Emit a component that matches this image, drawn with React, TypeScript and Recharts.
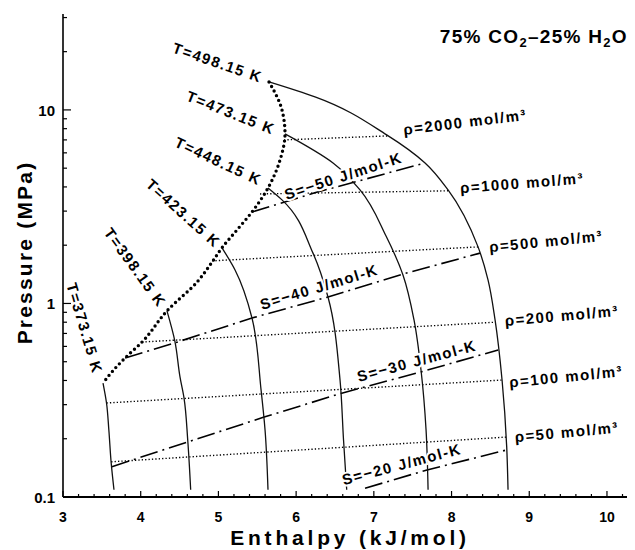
import React from 'react';
import { ComposedChart, Line, XAxis, YAxis, ReferenceDot } from 'recharts';

const FONT = '"Liberation Sans", Arial, Helvetica, sans-serif';

// all points are [enthalpy (kJ/mol), pressure (MPa)]

// isotherms (solid)
const iso373 = [[3.515, 0.388], [3.56, 0.306], [3.59, 0.222], [3.62, 0.15], [3.656, 0.109]];
const iso398 = [[4.338, 0.915], [4.44, 0.637], [4.506, 0.416], [4.557, 0.325], [4.605, 0.197], [4.643, 0.109]];
const iso423 = [[5.046, 1.94], [5.214, 1.49], [5.432, 0.841], [5.548, 0.36], [5.6, 0.222], [5.638, 0.109]];
const iso448 = [[5.638, 3.95], [5.818, 3.43], [6.217, 1.82], [6.41, 1.08], [6.565, 0.402], [6.61, 0.197], [6.651, 0.109]];
const iso473 = [[5.857, 7.52], [6.475, 5.32], [6.822, 3.86], [7.157, 2.23], [7.376, 1.4], [7.517, 0.822], [7.607, 0.453], [7.672, 0.222], [7.698, 0.109]];
const iso498 = [[5.651, 13.95], [6.243, 11.67], [7.165, 7.43], [7.659, 5.32], [7.955, 3.86], [8.341, 1.96], [8.47, 1.32], [8.56, 0.822], [8.65, 0.402], [8.71, 0.181], [8.727, 0.109]];

// boundary curve (bold dots), top to bottom
const boundary = [[5.651, 13.95], [5.818, 10], [5.857, 7.52], [5.793, 5.51], [5.638, 3.95], [5.432, 2.97], [5.24, 2.4], [5.046, 1.94], [4.93, 1.66], [4.725, 1.29], [4.338, 0.915], [4.017, 0.632], [3.8, 0.523], [3.63, 0.443], [3.515, 0.388]];

// isochores (fine dots)
const rho2000 = [[5.844, 7.0], [7.18, 7.34]];
const rho1000 = [[5.535, 3.68], [7.955, 3.82]];
const rho500 = [[4.918, 1.66], [8.345, 1.96]];
const rho200 = [[4.017, 0.632], [8.564, 0.8]];
const rho100 = [[3.56, 0.306], [8.65, 0.402]];
const rho50 = [[3.62, 0.152], [8.707, 0.204]];

// isentropes (dash-dot)
const s50 = [[5.432, 2.97], [6.24, 3.73], [7.659, 5.32]];
const s40 = [[3.8, 0.523], [4.44, 0.626], [5.432, 0.841], [6.41, 1.08], [7.376, 1.42], [8.367, 1.82]];
const s30 = [[3.63, 0.1435], [4.613, 0.193], [5.578, 0.258], [6.587, 0.344], [7.616, 0.444], [8.6, 0.575]];
const s20 = [[6.887, 0.111], [7.685, 0.138], [8.71, 0.175]];

const xMajor = [3, 4, 5, 6, 7, 8, 9, 10];
const yMajor = [0.1, 1, 10];

const tempLabels = [
  { text: 'T=498.15 K', h: 4.99, p: 17.6, angle: 19 },
  { text: 'T=473.15 K', h: 5.16, p: 9.71, angle: 21.6 },
  { text: 'T=448.15 K', h: 5.0, p: 5.45, angle: 25 },
  { text: 'T=423.15 K', h: 4.55, p: 2.93, angle: 42 },
  { text: 'T=398.15 K', h: 3.93, p: 1.535, angle: 54 },
  { text: 'T=373.15 K', h: 3.28, p: 0.745, angle: 73.5 },
];
const entropyLabels = [
  { text: 'S=\u221250 J/mol-K', h: 6.607, p: 4.57, angle: -18 },
  { text: 'S=\u221240 J/mol-K', h: 6.295, p: 1.22, angle: -17 },
  { text: 'S=\u221230 J/mol-K', h: 7.552, p: 0.506, angle: -15 },
  { text: 'S=\u221220 J/mol-K', h: 7.358, p: 0.148, angle: -15 },
];
const densityLabels = [
  { text: '\u03c1=2000 mol/m\u00b3', h: 8.174, p: 8.67, angle: -7 },
  { text: '\u03c1=1000 mol/m\u00b3', h: 8.907, p: 4.2, angle: -4.6 },
  { text: '\u03c1=500 mol/m\u00b3', h: 9.216, p: 2.1, angle: -5.8 },
  { text: '\u03c1=200 mol/m\u00b3', h: 9.418, p: 0.867, angle: -5 },
  { text: '\u03c1=100 mol/m\u00b3', h: 9.474, p: 0.42, angle: -5.7 },
  { text: '\u03c1=50 mol/m\u00b3', h: 9.482, p: 0.217, angle: -5.4 },
];

const toPts = (arr: number[][]) => arr.map(([h, p]) => ({ h, p }));

// minor ticks every 0.2 on x, 2..9 per decade on y
const xTicks: number[] = [];
xMajor.forEach((m) => {
  for (let i = 0; i < 5; i++) xTicks.push(+(m + i * 0.2).toFixed(1));
});
const yTicks: number[] = [];
yMajor.forEach((m) => {
  for (let i = 1; i < 10; i++) yTicks.push(+(m * i).toPrecision(2));
});
const X_DOMAIN: [number, number] = [3, 10.335];
const Y_DOMAIN: [number, number] = [0.1, 31.3];

const isMajorX = (v: number) => Math.abs(v - Math.round(v)) < 1e-6;
const isMajorY = (v: number) => yMajor.some((m) => Math.abs(v - m) < 1e-9);

const BottomTick = (props: any) => {
  const { x, y, payload } = props;
  const major = isMajorX(payload.value);
  return (
    <g>
      <line x1={x} x2={x} y1={y} y2={y - (major ? 6 : 3)} stroke="#000" strokeWidth={1.2} />
      {major && (
        <text x={x} y={y + 25} textAnchor="middle" fontFamily={FONT} fontWeight={700} fontSize={14} fill="#000">
          {Math.round(payload.value)}
        </text>
      )}
    </g>
  );
};

const TopTick = (props: any) => {
  const { x, y, payload } = props;
  const major = isMajorX(payload.value);
  return <line x1={x} x2={x} y1={y} y2={y + (major ? 6 : 3)} stroke="#000" strokeWidth={1.2} />;
};

const LeftTick = (props: any) => {
  const { x, y, payload } = props;
  const major = isMajorY(payload.value);
  return (
    <g>
      <line x1={x} x2={x + (major ? 8 : 4)} y1={y} y2={y} stroke="#000" strokeWidth={1.2} />
      {major && (
        <text x={x - 8} y={y + 6} textAnchor="end" fontFamily={FONT} fontWeight={700} fontSize={15} fill="#000">
          {payload.value}
        </text>
      )}
    </g>
  );
};

const RightTick = (props: any) => {
  const { x, y, payload } = props;
  const major = isMajorY(payload.value);
  return <line x1={x} x2={x - (major ? 8 : 4)} y1={y} y2={y} stroke="#000" strokeWidth={1.2} />;
};

const XTitle = (props: any) => {
  const { x, y, width, height } = props.viewBox;
  return (
    <text x={x + width / 2 + 2} y={y + height - 5} textAnchor="middle" fontFamily={FONT} fontWeight={700} fontSize={21} letterSpacing={3.8} fill="#000">
      Enthalpy (kJ/mol)
    </text>
  );
};

const YTitle = (props: any) => {
  const { x, y, height } = props.viewBox;
  const cx = x + 16;
  const cy = y + height / 2 - 3;
  return (
    <text x={cx} y={cy} transform={`rotate(-90 ${cx} ${cy})`} textAnchor="middle" dominantBaseline="central" fontFamily={FONT} fontWeight={700} fontSize={21} letterSpacing={2.2} fill="#000">
      Pressure (MPa)
    </text>
  );
};

const labelShape = (lbl: any, halo: boolean) => (props: any) => {
  const { cx, cy } = props;
  return (
    <text
      x={cx}
      y={cy}
      transform={`rotate(${lbl.angle} ${cx} ${cy})`}
      textAnchor="middle"
      dominantBaseline="central"
      fontFamily={FONT}
      fontWeight={700}
      fontSize={15}
      letterSpacing={1.5}
      fill="#000"
      stroke={halo ? '#fff' : 'none'}
      strokeWidth={halo ? 4 : 0}
      paintOrder="stroke"
    >
      {lbl.text}
    </text>
  );
};

const titleShape = (props: any) => {
  const { cx, cy } = props;
  return (
    <text x={cx} y={cy} textAnchor="end" fontFamily={FONT} fontWeight={700} fontSize={19} letterSpacing={1.3} fill="#000">
      75% CO
      <tspan dy={4} fontSize={13}>2</tspan>
      <tspan dy={-4}>{'\u201325% H'}</tspan>
      <tspan dy={4} fontSize={13}>2</tspan>
      <tspan dy={-4}>O</tspan>
    </text>
  );
};

const curveStyles: Record<string, any> = {
  isotherm: { stroke: '#111', strokeWidth: 1.3, type: 'monotoneY' },
  boundary: { stroke: '#000', strokeWidth: 3.4, strokeDasharray: '0 5.2', strokeLinecap: 'round', type: 'monotoneY' },
  isochore: { stroke: '#000', strokeWidth: 1.4, strokeDasharray: '1.3 2.1', type: 'linear' },
  isentrope: { stroke: '#000', strokeWidth: 1.6, strokeDasharray: '18 5 2 5', type: 'linear' },
};

const curves = [
  { key: 'rho2000', data: rho2000, kind: 'isochore' },
  { key: 'rho1000', data: rho1000, kind: 'isochore' },
  { key: 'rho500', data: rho500, kind: 'isochore' },
  { key: 'rho200', data: rho200, kind: 'isochore' },
  { key: 'rho100', data: rho100, kind: 'isochore' },
  { key: 'rho50', data: rho50, kind: 'isochore' },
  { key: 's50', data: s50, kind: 'isentrope' },
  { key: 's40', data: s40, kind: 'isentrope' },
  { key: 's30', data: s30, kind: 'isentrope' },
  { key: 's20', data: s20, kind: 'isentrope' },
  { key: 'T373', data: iso373, kind: 'isotherm' },
  { key: 'T398', data: iso398, kind: 'isotherm' },
  { key: 'T423', data: iso423, kind: 'isotherm' },
  { key: 'T448', data: iso448, kind: 'isotherm' },
  { key: 'T473', data: iso473, kind: 'isotherm' },
  { key: 'T498', data: iso498, kind: 'isotherm' },
  { key: 'boundary', data: boundary, kind: 'boundary' },
];

const App = () => {
  return (
    <div style={{ width: 627, height: 542, background: '#fff' }}>
      <ComposedChart width={627} height={542} margin={{ top: 6, right: 2, bottom: 0, left: 0 }}>
        <XAxis
          xAxisId="b"
          dataKey="h"
          type="number"
          domain={X_DOMAIN}
          allowDataOverflow
          ticks={xTicks}
          interval={0}
          height={53}
          tickSize={0}
          tickMargin={0}
          tickLine={false}
          axisLine={{ stroke: '#000', strokeWidth: 2.2 }}
          tick={<BottomTick />}
          label={<XTitle />}
        />
        <XAxis
          xAxisId="t"
          orientation="top"
          dataKey="h"
          type="number"
          domain={X_DOMAIN}
          allowDataOverflow
          ticks={xTicks}
          interval={0}
          height={0}
          tickSize={0}
          tickMargin={0}
          tickLine={false}
          axisLine={{ stroke: '#000', strokeWidth: 2 }}
          tick={<TopTick />}
        />
        <YAxis
          yAxisId="l"
          dataKey="p"
          type="number"
          scale="log"
          domain={Y_DOMAIN}
          allowDataOverflow
          ticks={yTicks}
          interval={0}
          width={55}
          tickSize={0}
          tickMargin={0}
          tickLine={false}
          axisLine={{ stroke: '#000', strokeWidth: 1.6 }}
          tick={<LeftTick />}
          label={<YTitle />}
        />
        <YAxis
          yAxisId="r"
          orientation="right"
          dataKey="p"
          type="number"
          scale="log"
          domain={Y_DOMAIN}
          allowDataOverflow
          ticks={yTicks}
          interval={0}
          width={0}
          tickSize={0}
          tickMargin={0}
          tickLine={false}
          axisLine={{ stroke: '#000', strokeWidth: 1.6 }}
          tick={<RightTick />}
        />
        {curves.map((c) => {
          const st = curveStyles[c.kind];
          return (
            <Line
              key={c.key}
              data={toPts(c.data)}
              xAxisId="b"
              yAxisId="l"
              dataKey="p"
              type={st.type}
              stroke={st.stroke}
              strokeWidth={st.strokeWidth}
              strokeDasharray={st.strokeDasharray}
              strokeLinecap={st.strokeLinecap}
              dot={false}
              activeDot={false}
              isAnimationActive={false}
            />
          );
        })}
        {tempLabels.map((l) => (
          <ReferenceDot key={l.text} xAxisId="b" yAxisId="l" x={l.h} y={l.p} r={0} ifOverflow="visible" shape={labelShape(l, false)} />
        ))}
        {entropyLabels.map((l) => (
          <ReferenceDot key={l.text} xAxisId="b" yAxisId="l" x={l.h} y={l.p} r={0} ifOverflow="visible" shape={labelShape(l, true)} />
        ))}
        {densityLabels.map((l) => (
          <ReferenceDot key={l.text} xAxisId="b" yAxisId="l" x={l.h} y={l.p} r={0} ifOverflow="visible" shape={labelShape(l, true)} />
        ))}
        <ReferenceDot xAxisId="b" yAxisId="l" x={10.27} y={22.2} r={0} ifOverflow="visible" shape={titleShape} />
      </ComposedChart>
    </div>
  );
};

export default App;
